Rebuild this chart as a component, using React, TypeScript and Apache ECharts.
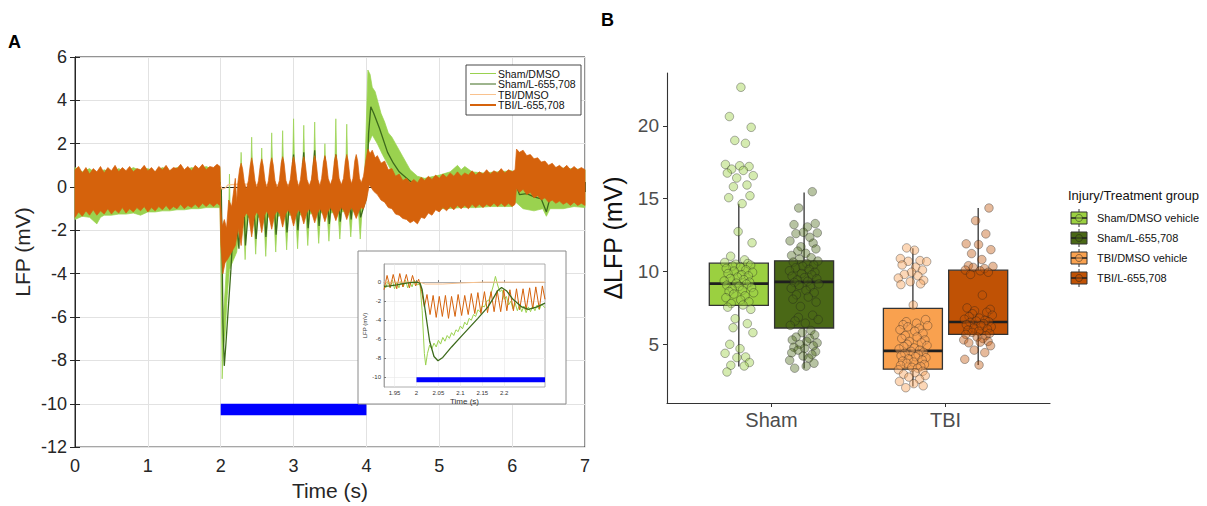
import React, { useEffect, useRef } from "react";
import * as echarts from "echarts";

const FONT = "'Liberation Sans', Arial, Helvetica, sans-serif";

// ---------- Panel A: main traces (time in s, LFP in mV) ----------
const tbiLUpper = [
  [0, 0.8], [0.05, 0.95], [0.1, 0.65], [0.15, 0.9], [0.2, 0.6], [0.25, 0.85], [0.3, 0.7], [0.35, 0.95], [0.4, 0.65], [0.45, 0.9],
  [0.5, 0.75], [0.55, 1.0], [0.6, 0.7], [0.65, 0.9], [0.7, 0.75], [0.75, 0.95], [0.8, 0.7], [0.85, 0.85], [0.9, 0.8], [0.95, 1.0],
  [1.0, 0.75], [1.05, 0.9], [1.1, 0.7], [1.15, 0.95], [1.2, 0.8], [1.25, 1.0], [1.3, 0.75], [1.35, 0.9], [1.4, 0.85], [1.45, 1.05],
  [1.5, 0.8], [1.55, 0.95], [1.6, 0.75], [1.65, 1.0], [1.7, 0.85], [1.75, 1.05], [1.8, 0.8], [1.85, 0.95], [1.9, 0.9], [1.95, 1.05], [1.99, 0.95],
  [2.0, -0.8], [2.02, -1.8], [2.05, -1.5], [2.08, -1.9], [2.11, -0.6], [2.15, -0.9], [2.2, 0.4], [2.22, -0.7],
  [2.235, 0.2], [2.26, 0.85], [2.28, 1.1], [2.3, 0.85], [2.325, 0.2], [2.352, -0.1],
  [2.38, 0.3], [2.405, 1.0], [2.425, 1.35], [2.445, 1.0], [2.47, 0.3], [2.494, -0.05],
  [2.518, 0.3], [2.543, 1.0], [2.563, 1.3], [2.583, 1.0], [2.608, 0.3], [2.632, -0.05],
  [2.655, 0.3], [2.68, 1.05], [2.7, 1.35], [2.72, 1.05], [2.745, 0.3], [2.775, -0.05],
  [2.805, 0.3], [2.83, 1.1], [2.85, 1.4], [2.87, 1.1], [2.895, 0.3], [2.925, 0.0],
  [2.955, 0.35], [2.98, 1.1], [3.0, 1.4], [3.02, 1.1], [3.045, 0.35], [3.07, 0.0],
  [3.095, 0.35], [3.12, 1.1], [3.14, 1.4], [3.16, 1.1], [3.185, 0.35], [3.215, 0.05],
  [3.245, 0.35], [3.27, 1.15], [3.29, 1.45], [3.31, 1.15], [3.335, 0.35], [3.36, 0.05],
  [3.385, 0.4], [3.41, 1.15], [3.43, 1.45], [3.45, 1.15], [3.475, 0.4], [3.505, 0.1],
  [3.535, 0.4], [3.56, 1.2], [3.58, 1.5], [3.6, 1.2], [3.625, 0.4], [3.655, 0.1],
  [3.685, 0.4], [3.71, 1.2], [3.73, 1.5], [3.75, 1.2], [3.775, 0.4], [3.795, 0.15],
  [3.815, 0.4], [3.84, 1.2], [3.86, 1.5], [3.88, 1.2], [3.905, 0.4], [3.93, 0.2],
  [3.96, 0.5], [3.99, 1.2], [4.02, 1.75], [4.05, 1.55], [4.08, 1.7], [4.12, 1.35], [4.15, 1.45], [4.2, 1.1], [4.25, 1.2], [4.3, 0.8],
  [4.35, 0.85], [4.4, 0.5], [4.45, 0.6], [4.5, 0.3], [4.55, 0.4], [4.6, 0.2], [4.65, 0.35], [4.7, 0.2], [4.75, 0.45], [4.8, 0.3],
  [4.85, 0.5], [4.9, 0.35], [4.95, 0.55], [5.0, 0.4], [5.05, 0.6], [5.1, 0.45], [5.15, 0.65], [5.2, 0.5], [5.25, 0.7], [5.3, 0.5],
  [5.35, 0.65], [5.4, 0.55], [5.45, 0.75], [5.5, 0.55], [5.55, 0.7], [5.6, 0.6], [5.65, 0.8], [5.7, 0.6], [5.75, 0.75], [5.8, 0.65],
  [5.85, 0.85], [5.9, 0.65], [5.95, 0.8], [6.0, 0.7], [6.04, 0.8], [6.06, 1.75], [6.1, 1.6], [6.15, 1.7], [6.2, 1.45], [6.25, 1.5],
  [6.3, 1.3], [6.35, 1.35], [6.4, 1.15], [6.45, 1.2], [6.5, 1.0], [6.55, 1.1], [6.6, 0.9], [6.65, 1.0], [6.7, 0.85], [6.75, 1.0],
  [6.8, 0.8], [6.85, 0.95], [6.9, 0.8], [6.95, 0.9], [7.0, 0.8],
];
const tbiLLower = [
  [0, -1.4], [0.05, -1.15], [0.1, -1.35], [0.15, -1.1], [0.2, -1.3], [0.25, -1.05], [0.3, -1.3], [0.35, -1.1], [0.4, -1.25], [0.45, -1.0],
  [0.5, -1.25], [0.55, -1.05], [0.6, -1.2], [0.65, -0.95], [0.7, -1.2], [0.75, -1.0], [0.8, -1.15], [0.85, -0.95], [0.9, -1.1], [0.95, -0.9],
  [1.0, -1.15], [1.05, -0.95], [1.1, -1.1], [1.15, -0.9], [1.2, -1.05], [1.25, -0.85], [1.3, -1.05], [1.35, -0.9], [1.4, -1.0], [1.45, -0.8],
  [1.5, -1.0], [1.55, -0.85], [1.6, -0.95], [1.65, -0.8], [1.7, -0.95], [1.75, -0.75], [1.8, -0.9], [1.85, -0.75], [1.9, -0.9], [1.95, -0.75], [1.99, -0.85],
  [2.0, -2.6], [2.03, -4.0], [2.06, -3.5], [2.1, -3.3], [2.15, -3.0], [2.2, -2.7], [2.24, -1.9],
  [2.28, -2.7], [2.32, -1.4], [2.352, -1.2],
  [2.385, -1.35], [2.425, -2.3], [2.465, -1.35], [2.494, -1.15],
  [2.523, -1.3], [2.563, -2.1], [2.603, -1.3], [2.632, -1.1],
  [2.66, -1.3], [2.7, -1.95], [2.74, -1.3], [2.775, -1.1],
  [2.81, -1.25], [2.85, -1.85], [2.89, -1.25], [2.925, -1.05],
  [2.96, -1.25], [3.0, -1.8], [3.04, -1.25], [3.07, -1.05],
  [3.1, -1.2], [3.14, -1.7], [3.18, -1.2], [3.215, -1.0],
  [3.25, -1.2], [3.29, -1.65], [3.33, -1.2], [3.36, -1.0],
  [3.39, -1.15], [3.43, -1.6], [3.47, -1.15], [3.505, -0.95],
  [3.54, -1.15], [3.58, -1.55], [3.62, -1.15], [3.655, -0.95],
  [3.69, -1.1], [3.73, -1.5], [3.77, -1.1], [3.795, -0.95],
  [3.82, -1.1], [3.86, -1.45], [3.9, -1.1], [3.93, -0.95],
  [3.96, -1.0], [4.0, -0.6], [4.04, 0.1], [4.1, -0.2], [4.15, -0.35], [4.2, -0.6], [4.25, -0.7], [4.3, -0.95], [4.35, -1.0], [4.4, -1.25],
  [4.45, -1.3], [4.5, -1.45], [4.55, -1.5], [4.6, -1.65], [4.65, -1.55], [4.7, -1.7], [4.75, -1.4], [4.8, -1.45], [4.85, -1.2], [4.9, -1.3],
  [4.95, -1.05], [5.0, -1.15], [5.05, -0.95], [5.1, -1.1], [5.15, -0.9], [5.2, -1.05], [5.25, -0.85], [5.3, -1.0], [5.35, -0.85], [5.4, -1.0],
  [5.45, -0.8], [5.5, -0.95], [5.55, -0.8], [5.6, -0.95], [5.65, -0.8], [5.7, -0.9], [5.75, -0.75], [5.8, -0.9], [5.85, -0.75], [5.9, -0.9],
  [5.95, -0.75], [6.0, -0.9], [6.04, -0.8], [6.06, -0.05], [6.1, -0.25], [6.15, -0.1], [6.2, -0.35], [6.25, -0.25], [6.3, -0.5], [6.35, -0.4],
  [6.4, -0.6], [6.45, -0.5], [6.5, -0.7], [6.55, -0.6], [6.6, -0.75], [6.65, -0.65], [6.7, -0.8], [6.75, -0.7], [6.8, -0.85], [6.85, -0.7],
  [6.9, -0.85], [6.95, -0.75], [7.0, -0.85],
];
const shamDmsoUpper = [
  [0, 0.9], [0.1, 0.7], [0.2, 0.85], [0.3, 0.6], [0.4, 0.8], [0.5, 0.65], [0.6, 0.85], [0.7, 0.7], [0.8, 0.9], [0.9, 0.75],
  [1.0, 0.85], [1.1, 0.7], [1.2, 0.9], [1.3, 0.75], [1.4, 0.9], [1.5, 0.75], [1.6, 0.9], [1.7, 0.8], [1.8, 0.95], [1.9, 0.8], [1.99, 0.9],
  [2.0, -0.5], [2.015, -6.0], [2.03, -6.2], [2.06, -4.8], [2.09, -3.0], [2.11, -1.0], [2.12, 0.6], [2.13, -1.0], [2.16, -1.2], [2.22, -0.8],
  [2.26, -0.3], [2.28, 1.6], [2.3, -0.3],
  [2.405, -0.3], [2.425, 2.3], [2.445, -0.3],
  [2.543, -0.3], [2.563, 1.8], [2.583, -0.3],
  [2.68, -0.3], [2.7, 2.5], [2.72, -0.3],
  [2.83, -0.3], [2.85, 2.6], [2.87, -0.3],
  [2.98, -0.2], [3.0, 3.15], [3.02, -0.2],
  [3.12, -0.2], [3.14, 2.85], [3.16, -0.2],
  [3.27, -0.2], [3.29, 3.0], [3.31, -0.2],
  [3.41, -0.1], [3.43, 2.0], [3.45, -0.1],
  [3.56, -0.1], [3.58, 3.15], [3.6, -0.1],
  [3.71, -0.1], [3.73, 2.9], [3.75, -0.1],
  [3.84, 0.0], [3.86, 1.4], [3.88, 0.0],
  [3.97, 0.0], [3.99, 2.0], [4.02, 5.4], [4.05, 5.2], [4.08, 4.6], [4.12, 4.4], [4.16, 3.9], [4.2, 3.4],
  [4.25, 3.0], [4.3, 2.5], [4.35, 2.3], [4.4, 2.0], [4.45, 1.7], [4.5, 1.4], [4.55, 1.1], [4.6, 0.8], [4.7, 0.5], [4.8, 0.4],
  [5.0, 0.55], [5.15, 0.7], [5.25, 1.0], [5.3, 0.8], [5.35, 0.95], [5.45, 0.7], [5.6, 0.65], [5.8, 0.7], [6.0, 0.75], [6.05, 0.5],
  [6.2, 0.7], [6.4, 0.8], [6.6, 0.9], [6.8, 0.85], [7.0, 0.8],
];
const shamDmsoLower = [
  [0, -1.5], [0.1, -1.35], [0.2, -1.4], [0.3, -1.7], [0.35, -1.4], [0.4, -1.3], [0.5, -1.3], [0.6, -1.25], [0.7, -1.25], [0.8, -1.2],
  [0.9, -1.3], [1.0, -1.15], [1.1, -1.15], [1.2, -1.1], [1.3, -1.1], [1.4, -1.05], [1.5, -1.05], [1.6, -1.0], [1.7, -1.0], [1.8, -0.95],
  [1.9, -0.95], [1.99, -0.95],
  [2.0, -2.5], [2.02, -8.85], [2.035, -7.5], [2.06, -6.8], [2.09, -5.0], [2.12, -3.8], [2.17, -3.4], [2.22, -3.0], [2.26, -1.6],
  [2.31, -1.4], [2.335, -3.35], [2.36, -1.4],
  [2.455, -1.4], [2.48, -3.1], [2.505, -1.4],
  [2.593, -1.4], [2.618, -3.2], [2.643, -1.4],
  [2.73, -1.35], [2.755, -3.0], [2.78, -1.35],
  [2.88, -1.3], [2.905, -2.9], [2.93, -1.3],
  [3.03, -1.3], [3.055, -2.85], [3.08, -1.3],
  [3.17, -1.25], [3.195, -2.7], [3.22, -1.25],
  [3.32, -1.2], [3.345, -2.6], [3.37, -1.2],
  [3.46, -1.2], [3.485, -2.5], [3.51, -1.2],
  [3.61, -1.15], [3.635, -2.4], [3.66, -1.15],
  [3.76, -1.1], [3.785, -2.3], [3.81, -1.1],
  [3.89, -1.1], [3.915, -2.4], [3.94, -1.1],
  [4.0, -0.5], [4.03, 2.0], [4.08, 2.4], [4.15, 2.0], [4.22, 1.5], [4.3, 1.0], [4.4, 0.4],
  [4.5, 0.0], [4.6, -0.3], [4.7, -0.6], [4.8, -0.9], [4.9, -1.0], [5.1, -1.0], [5.3, -0.95], [5.5, -0.95], [5.7, -0.9], [5.9, -0.9],
  [6.0, -0.9], [6.05, -0.7], [6.15, -1.0], [6.3, -1.1], [6.42, -1.0], [6.47, -1.35], [6.52, -1.0], [6.7, -1.0], [6.85, -0.9], [7.0, -0.95],
];
const shamLTrace = [
  [0, -0.35], [0.5, -0.3], [1.0, -0.2], [1.5, -0.15], [1.95, -0.05], [2.0, 0], [2.008, -0.1], [2.02, -3.0], [2.03, -6.2], [2.049, -8.25],
  [2.07, -7.3], [2.1, -5.8], [2.14, -3.8], [2.16, -2.6], [2.19, -0.6], [2.22, -1.8], [2.25, -2.85], [2.28, 0.2], [2.32, -1.0], [2.34, -2.7],
  [2.425, 0.6], [2.45, -0.8], [2.485, -2.4], [2.563, 0.7], [2.59, -0.6], [2.62, -2.3], [2.7, 0.9], [2.73, -0.6], [2.76, -2.2], [2.85, 1.3],
  [2.88, -0.5], [2.91, -2.1], [3.0, 1.5], [3.03, -0.5], [3.06, -2.0], [3.14, 1.6], [3.17, -0.4], [3.2, -1.9], [3.29, 1.7], [3.32, -0.4],
  [3.35, -1.8], [3.43, 1.4], [3.46, -0.4], [3.49, -1.7], [3.58, 1.5], [3.61, -0.3], [3.64, -1.6], [3.73, 1.3], [3.76, -0.3], [3.79, -1.5],
  [3.86, 1.0], [3.89, -0.3], [3.92, -1.4], [4.0, -0.5], [4.03, 2.5], [4.06, 3.7], [4.1, 3.4], [4.18, 2.7], [4.29, 1.6], [4.37, 1.1],
  [4.45, 0.7], [4.6, 0.27], [4.76, 0.0], [5.0, -0.1], [5.5, -0.1], [6.0, -0.1], [6.04, -0.1], [6.06, 0.05], [6.1, -0.35], [6.2, -0.3],
  [6.3, -0.45], [6.4, -0.55], [6.47, -1.15], [6.52, -0.5], [6.7, -0.35], [7.0, -0.25],
];
const tbiDmsoTrace = [
  [0, 0.05], [1.0, 0.05], [2.0, 0.05], [2.02, -0.1], [2.06, -0.05], [2.1, 0.1], [2.3, 0.15], [2.5, 0.1], [3.0, 0.1], [4.0, 0.1],
  [4.05, 0.3], [4.5, 0.0], [5.0, 0.0], [6.0, 0.0], [7.0, 0.0],
];
const stimBar = [[2, -10.26], [4, -10.26]];

// ---------- Panel A inset ----------
const insetShamDmso = [
  [1.926, -0.3], [1.93, -0.6], [1.935, 0.1], [1.94, -0.5], [1.945, 0.2], [1.95, -0.7], [1.955, 0.0], [1.96, -0.6], [1.965, 0.1], [1.97, -0.5],
  [1.975, 0.2], [1.98, -0.6], [1.985, 0.0], [1.99, -0.5], [1.995, 0.2], [2.0, -0.3], [2.008, -0.2], [2.013, -3.0], [2.018, -7.5], [2.021, -8.7],
  [2.025, -7.5], [2.03, -6.6], [2.035, -7.0], [2.04, -6.4], [2.045, -6.8], [2.05, -6.1], [2.055, -6.5], [2.06, -5.8], [2.065, -6.2], [2.07, -5.6],
  [2.075, -5.9], [2.08, -5.3], [2.085, -5.6], [2.09, -5.0], [2.095, -5.2], [2.1, -4.6], [2.105, -4.9], [2.11, -4.2], [2.115, -4.5], [2.12, -3.8],
  [2.125, -4.0], [2.13, -3.4], [2.135, -3.6], [2.14, -2.9], [2.145, -3.1], [2.15, -2.5], [2.155, -2.6], [2.16, -2.0], [2.165, -1.9], [2.17, -1.2],
  [2.175, -0.4], [2.18, 0.6], [2.185, -0.3], [2.19, -1.0], [2.195, -0.8], [2.2, -1.8], [2.205, -1.5], [2.21, -2.4], [2.215, -2.0], [2.22, -2.8],
  [2.225, -2.2], [2.23, -3.0], [2.235, -2.4], [2.24, -3.1], [2.245, -2.5], [2.25, -3.2], [2.255, -2.6], [2.26, -3.1], [2.265, -2.5], [2.27, -3.0],
  [2.275, -2.4], [2.28, -2.9], [2.285, -2.3], [2.293, -2.7],
];
const insetShamL = [
  [1.926, -0.45], [1.94, -0.4], [1.955, -0.3], [1.97, -0.15], [1.985, -0.05], [2.0, 0], [2.008, -0.1], [2.013, -0.8], [2.02, -3.0], [2.03, -6.2],
  [2.04, -7.8], [2.049, -8.25], [2.06, -7.9], [2.08, -6.8], [2.1, -5.8], [2.12, -4.8], [2.14, -3.8], [2.163, -2.6], [2.175, -1.7], [2.185, -0.9],
  [2.194, -0.56], [2.205, -0.9], [2.22, -1.8], [2.24, -2.6], [2.255, -2.85], [2.275, -2.6], [2.293, -2.2],
];
const insetTbiDmso = [
  [1.926, 0.0], [2.0, 0.0], [2.01, -0.05], [2.02, -0.2], [2.06, -0.2], [2.1, -0.1], [2.15, 0.0], [2.2, 0.0], [2.293, 0.0],
];
const insetTbiL = [
  [1.926, -0.8], [1.933, 0.7], [1.94, -0.6], [1.947, 0.8], [1.955, -0.7], [1.962, 0.9], [1.969, -0.5], [1.977, 0.8], [1.984, -0.6], [1.991, 0.7],
  [1.998, -0.4], [2.005, 0.3], [2.012, -1.0], [2.018, -2.6], [2.024, -1.3], [2.031, -3.4], [2.038, -1.4], [2.045, -3.7], [2.052, -1.5], [2.059, -3.6],
  [2.066, -1.4], [2.073, -3.8], [2.08, -1.5], [2.088, -3.6], [2.095, -1.3], [2.103, -3.5], [2.11, -1.4], [2.118, -3.4], [2.125, -1.2], [2.133, -3.3],
  [2.14, -1.1], [2.147, -3.3], [2.155, -1.0], [2.162, -3.2], [2.17, -1.0], [2.177, -3.1], [2.184, -0.9], [2.192, -3.1], [2.199, -0.8], [2.206, -3.0],
  [2.213, -0.8], [2.221, -3.0], [2.228, -0.7], [2.235, -2.9], [2.243, -0.7], [2.25, -2.9], [2.258, -0.6], [2.265, -2.8], [2.272, -0.5], [2.28, -2.8],
  [2.287, -0.4], [2.293, -1.8],
];
const insetStim = [[2.0, -10.23], [2.293, -10.23]];
const insetXTicks = [1.95, 2, 2.05, 2.1, 2.15, 2.2];
const insetYTicks = [-10, -8, -6, -4, -2, 0];

const traceNames = ["Sham/DMSO", "Sham/L-655,708", "TBI/DMSO", "TBI/L-655,708"];

// ---------- Panel B ----------
const injuryCats = ["Sham", "TBI"];
const groupNames = ["Sham/DMSO vehicle", "Sham/L-655,708", "TBI/DMSO vehicle", "TBI/L-655,708"];
const groupCat = [0, 0, 1, 1];
const groupSide = [-1, 1, -1, 1];
const whiskerLow = [3.47, 3.34, 2.1, 3.58];
const q1 = [7.68, 6.12, 3.29, 5.68];
const median = [9.17, 9.29, 4.55, 6.53];
const q3 = [10.57, 10.73, 7.47, 10.09];
const whiskerHigh = [14.66, 15.43, 11.6, 14.36];

const shamDmsoPts = [22.65, 20.64, 19.9, 19.0, 18.8, 17.35, 17.26, 17.21, 17.03, 16.94, 16.76, 16.58, 16.42, 15.94, 15.82, 15.2, 15.07, 14.66,
  12.74, 11.97, 11.05, 10.8, 10.62, 10.55, 10.5, 10.44, 10.38, 10.3, 10.21, 10.12, 10.03, 9.95, 9.86, 9.78, 9.7, 9.61, 9.52, 9.44, 9.35,
  9.27, 9.2, 9.14, 9.06, 8.98, 8.9, 8.81, 8.72, 8.63, 8.54, 8.45, 8.33, 8.2, 8.05, 7.92, 7.8, 7.7, 7.55, 7.4, 6.76, 6.42, 6.14, 5.8, 5.0,
  4.7, 4.38, 4.13, 4.09, 3.75, 3.56, 3.51, 3.1];
const shamLPts = [15.48, 14.36, 13.29, 13.22, 13.06, 12.69, 12.65, 12.6, 12.35, 12.1, 11.95, 11.7, 11.55, 11.4, 11.25, 11.1, 10.95, 10.85,
  10.72, 10.65, 10.55, 10.45, 10.36, 10.25, 10.15, 10.05, 9.95, 9.86, 9.77, 9.68, 9.58, 9.5, 9.42, 9.33, 9.25, 9.15, 9.05, 8.95, 8.85, 8.7,
  8.55, 8.4, 8.25, 8.1, 7.9, 7.6, 7.0, 6.85, 6.7, 6.6, 6.45, 6.3, 5.95, 5.8, 5.65, 5.5, 5.4, 5.3, 5.2, 5.1, 5.0, 4.9, 4.8, 4.72, 4.6, 4.5,
  4.42, 4.3, 4.2, 4.05, 3.9, 3.7, 3.5, 3.36];
const tbiDmsoPts = [11.62, 11.46, 10.89, 10.75, 10.7, 10.68, 10.45, 10.3, 10.1, 9.95, 9.8, 9.7, 9.55, 9.4, 9.3, 9.15, 9.1, 7.7, 6.7, 6.55,
  6.45, 6.35, 6.28, 6.2, 6.1, 6.0, 5.9, 5.75, 5.6, 5.5, 5.4, 5.3, 5.2, 5.1, 5.0, 4.92, 4.85, 4.75, 4.68, 4.6, 4.52, 4.45, 4.38, 4.3, 4.22,
  4.15, 4.08, 4.0, 3.93, 3.85, 3.78, 3.7, 3.62, 3.55, 3.48, 3.42, 3.36, 3.25, 3.15, 3.05, 2.95, 2.85, 2.75, 2.6, 2.45, 2.3, 2.15, 2.02];
const tbiLPts = [14.36, 13.49, 12.58, 11.9, 11.85, 11.5, 11.23, 10.82, 10.4, 10.35, 10.28, 10.2, 10.1, 10.05, 9.95, 9.8, 8.38, 7.5, 7.4,
  7.3, 7.2, 7.1, 7.0, 6.9, 6.8, 6.72, 6.65, 6.6, 6.55, 6.5, 6.42, 6.35, 6.28, 6.2, 6.12, 6.05, 5.98, 5.9, 5.82, 5.75, 5.68, 5.6, 5.5, 5.4,
  5.3, 5.2, 5.15, 5.1, 4.9, 4.6, 4.43, 3.97, 3.58];
const groupPts = [shamDmsoPts, shamLPts, tbiDmsoPts, tbiLPts];
const jitterOffsets = [0.012, -0.054, 0.071, -0.023, 0.038, -0.077, 0.005, 0.059, -0.041, 0.026, -0.066, 0.083, -0.012, 0.047, -0.031,
  0.064, -0.058, 0.019, -0.004, 0.076, -0.047, 0.033, -0.081, 0.052, -0.018, 0.068, -0.036, 0.009, -0.072, 0.041, -0.027, 0.079, -0.062,
  0.016, 0.055, -0.008, -0.049, 0.029, -0.084, 0.062, -0.015, 0.044, -0.069, 0.002, 0.073, -0.038, 0.021, -0.056, 0.085, -0.029, 0.036,
  -0.074, 0.011, 0.058, -0.044, 0.024, -0.064, 0.069, -0.021, 0.049, -0.033, 0.081, -0.052, 0.007, -0.079, 0.039, -0.011, 0.061, -0.046,
  0.031, -0.068, 0.015, 0.075, -0.025, 0.053, -0.059, 0.003, -0.035, 0.066, -0.071, 0.045, -0.006, 0.027, -0.083, 0.057];
const bYTicks = [5, 10, 15, 20];

// ---------- styles ----------
const C_LG = "#9ad24f";
const C_DG = "#3d6b1c";
const C_LO = "#f9c28e";
const C_OR = "#d5620c";
const traceColors = [C_LG, C_DG, C_LO, C_OR];
const boxFill = ["#9bd040", "#4a6816", "#f9a14f", "#c05205"];
const ptFill = ["rgba(160,210,75,0.55)", "rgba(74,104,22,0.5)", "rgba(249,165,90,0.55)", "rgba(192,82,5,0.5)"];
const DODGE = 0.1875;
const BOX_W = 0.339;

function bandSeries(name: string, upper: number[][], lower: number[][], color: string, z: number) {
  return {
    type: "custom",
    name,
    xAxisIndex: 0,
    yAxisIndex: 0,
    z,
    silent: true,
    data: [[upper[0][0], upper[0][1]]],
    renderItem: (_p: any, api: any) => {
      const pts = upper.map((p) => api.coord(p)).concat(lower.slice().reverse().map((p) => api.coord(p)));
      return { type: "polygon", shape: { points: pts }, style: { fill: color, stroke: color, lineWidth: 0.7 } };
    },
  };
}

function lineSeries(name: string, data: number[][], color: string, width: number, xi: number, yi: number, z: number) {
  return {
    type: "line",
    name,
    xAxisIndex: xi,
    yAxisIndex: yi,
    z,
    data,
    showSymbol: false,
    symbol: "none",
    silent: true,
    lineStyle: { color, width, cap: "butt" },
  };
}

export default function App() {
  const ref = useRef<HTMLDivElement>(null);
  useEffect(() => {
    if (!ref.current) return;
    const chart = echarts.init(ref.current, undefined, { renderer: "svg" });

    const mainAxisCommon = {
      axisLine: { show: true, lineStyle: { color: "#262626", width: 1 } },
      axisTick: { show: true, inside: true, length: 5, lineStyle: { color: "#262626" } },
    };

    const boxSeries = {
      type: "custom",
      xAxisIndex: 3,
      yAxisIndex: 3,
      z: 3,
      silent: true,
      data: groupNames.map((_, i) => [groupCat[i] + 1 + groupSide[i] * DODGE, whiskerLow[i], q1[i], median[i], q3[i], whiskerHigh[i]]),
      encode: { x: 0, y: [1, 2, 3, 4, 5] },
      renderItem: (params: any, api: any) => {
        const i = params.dataIndex;
        const c = api.value(0);
        const lo = api.coord([c, api.value(1)]);
        const b1 = api.coord([c, api.value(2)]);
        const md = api.coord([c, api.value(3)]);
        const b3 = api.coord([c, api.value(4)]);
        const hi = api.coord([c, api.value(5)]);
        const half = api.size([BOX_W, 0])[0] / 2;
        return {
          type: "group",
          children: [
            { type: "line", shape: { x1: lo[0], y1: lo[1], x2: b1[0], y2: b1[1] }, style: { stroke: "#333", lineWidth: 1.3 } },
            { type: "line", shape: { x1: b3[0], y1: b3[1], x2: hi[0], y2: hi[1] }, style: { stroke: "#333", lineWidth: 1.3 } },
            { type: "rect", shape: { x: b1[0] - half, y: b3[1], width: half * 2, height: b1[1] - b3[1] }, style: { fill: boxFill[i], stroke: "#333", lineWidth: 1.3 } },
            { type: "line", shape: { x1: md[0] - half, y1: md[1], x2: md[0] + half, y2: md[1] }, style: { stroke: "#1f1f1f", lineWidth: 2.6 } },
          ],
        };
      },
    };

    const pointSeries = groupPts.map((vals, g) => ({
      type: "scatter",
      name: groupNames[g],
      xAxisIndex: 3,
      yAxisIndex: 3,
      z: 4,
      silent: true,
      symbolSize: 8.5,
      itemStyle: { color: ptFill[g], borderColor: "rgba(30,30,30,0.5)", borderWidth: 0.9 },
      data: vals.map((v, k) => [groupCat[g] + 1 + groupSide[g] * DODGE + jitterOffsets[(k + g * 13) % jitterOffsets.length], v]),
    }));

    const legendARows = traceNames.map((n, i) => [
      { type: "line", z: 21, shape: { x1: 470, y1: 73.5 + i * 10.5, x2: 496, y2: 73.5 + i * 10.5 }, style: { stroke: traceColors[i], lineWidth: i === 3 ? 2 : 1 } },
      { type: "text", z: 21, x: 498, y: 73.5 + i * 10.5, style: { text: n, fill: "#111", font: `10.5px ${FONT}`, verticalAlign: "middle" } },
    ]).flat();

    const legendBRows = groupNames.map((n, i) => {
      const cy = 218 + i * 20;
      const cx = 1079;
      return [
        { type: "line", z: 21, shape: { x1: cx, y1: cy - 9, x2: cx, y2: cy + 9 }, style: { stroke: "#333", lineWidth: 1 } },
        { type: "rect", z: 21, shape: { x: cx - 8, y: cy - 6, width: 16, height: 12 }, style: { fill: boxFill[i], stroke: "#333", lineWidth: 1 } },
        { type: "line", z: 22, shape: { x1: cx - 8, y1: cy, x2: cx + 8, y2: cy }, style: { stroke: "#1f1f1f", lineWidth: 1.5 } },
        { type: "circle", z: 23, shape: { cx, cy, r: 3.5 }, style: { fill: ptFill[i], stroke: "rgba(30,30,30,0.6)", lineWidth: 0.8 } },
        { type: "text", z: 21, x: 1097, y: cy, style: { text: n, fill: "#111", font: `11px ${FONT}`, verticalAlign: "middle" } },
      ];
    }).flat();

    const option: any = {
      animation: false,
      backgroundColor: "#ffffff",
      textStyle: { fontFamily: FONT },
      grid: [
        { left: 75, top: 57, width: 510, height: 396, show: true, borderColor: "#262626", borderWidth: 1, backgroundColor: "rgba(0,0,0,0)" },
        { left: 384, top: 264, width: 161, height: 123, show: true, borderColor: "#9a9a9a", borderWidth: 0.8, backgroundColor: "rgba(0,0,0,0)", z: 12 },
        { left: 667, top: 73, width: 383, height: 330 },
      ],
      xAxis: [
        {
          type: "value", gridIndex: 0, min: 0, max: 7, interval: 1, ...mainAxisCommon,
          splitLine: { show: true, lineStyle: { color: "#e2e2e2", width: 1 } },
          axisLabel: { fontSize: 18, color: "#262626", margin: 10, fontFamily: FONT },
          name: "Time (s)", nameLocation: "middle", nameGap: 32,
          nameTextStyle: { fontSize: 21, color: "#262626", fontFamily: FONT },
        },
        {
          type: "value", gridIndex: 0, position: "top", min: 0, max: 7, interval: 1, ...mainAxisCommon,
          axisLabel: { show: false }, splitLine: { show: false },
        },
        {
          type: "value", gridIndex: 1, min: 1.926, max: 2.293, z: 12, splitNumber: 7,
          axisLine: { show: true, lineStyle: { color: "#9a9a9a", width: 0.8 } },
          axisTick: { show: true, inside: true, length: 2, customValues: insetXTicks, lineStyle: { color: "#777" } },
          splitLine: { show: true, lineStyle: { color: "#e8e8e8", width: 0.6 } },
          axisLabel: { customValues: insetXTicks, fontSize: 6, color: "#333", margin: 3, fontFamily: FONT, formatter: (v: number) => String(v) },
          name: "Time (s)", nameLocation: "middle", nameGap: 10,
          nameTextStyle: { fontSize: 8, color: "#333", fontFamily: FONT },
        },
        {
          type: "value", gridIndex: 2, min: 0.4, max: 2.6,
          axisLine: { show: true, lineStyle: { color: "#333", width: 1.1 } },
          axisTick: { show: true, length: 4, customValues: [1, 2], lineStyle: { color: "#333" } },
          splitLine: { show: false },
          axisLabel: {
            customValues: [1, 2], fontSize: 20, color: "#4d4d4d", margin: 7, fontFamily: FONT,
            formatter: (v: number) => (Math.abs(v - 1) < 1e-6 ? injuryCats[0] : Math.abs(v - 2) < 1e-6 ? injuryCats[1] : ""),
          },
        },
      ],
      yAxis: [
        {
          type: "value", gridIndex: 0, min: -12, max: 6, interval: 2, ...mainAxisCommon,
          splitLine: { show: true, lineStyle: { color: "#e2e2e2", width: 1 } },
          axisLabel: { fontSize: 18, color: "#262626", margin: 8, fontFamily: FONT },
          name: "LFP (mV)", nameLocation: "middle", nameGap: 42,
          nameTextStyle: { fontSize: 21, color: "#262626", fontFamily: FONT },
        },
        {
          type: "value", gridIndex: 0, position: "right", min: -12, max: 6, interval: 2, ...mainAxisCommon,
          axisLabel: { show: false }, splitLine: { show: false },
        },
        {
          type: "value", gridIndex: 1, min: -11, max: 1.9, z: 12, splitNumber: 6,
          axisLine: { show: true, lineStyle: { color: "#9a9a9a", width: 0.8 } },
          axisTick: { show: true, inside: true, length: 2, customValues: insetYTicks, lineStyle: { color: "#777" } },
          splitLine: { show: true, lineStyle: { color: "#e8e8e8", width: 0.6 } },
          axisLabel: { customValues: insetYTicks, fontSize: 6, color: "#333", margin: 3, fontFamily: FONT },
          name: "LFP (mV)", nameLocation: "middle", nameGap: 12,
          nameTextStyle: { fontSize: 6, color: "#333", fontFamily: FONT },
        },
        {
          type: "value", gridIndex: 2, min: 0.97, max: 23.63,
          axisLine: { show: true, lineStyle: { color: "#333", width: 1.1 } },
          axisTick: { show: true, length: 4, customValues: bYTicks, lineStyle: { color: "#333" } },
          splitLine: { show: false },
          axisLabel: { customValues: bYTicks, fontSize: 19, color: "#4d4d4d", margin: 8, fontFamily: FONT },
          name: "ΔLFP (mV)", nameLocation: "middle", nameGap: 42,
          nameTextStyle: { fontSize: 25, color: "#111", fontFamily: FONT },
        },
      ],
      graphic: [
        { type: "text", z: 30, x: 8, y: 33, style: { text: "A", fill: "#000", font: `bold 18px ${FONT}` } },
        { type: "text", z: 30, x: 601, y: 11, style: { text: "B", fill: "#000", font: `bold 18px ${FONT}` } },
        { type: "rect", z: 20, shape: { x: 466, y: 65, width: 115, height: 50 }, style: { fill: "#fff", stroke: "#333", lineWidth: 0.9 } },
        ...legendARows,
        { type: "rect", z: 10, shape: { x: 358, y: 251, width: 208, height: 153 }, style: { fill: "#fff", stroke: "#8a8a8a", lineWidth: 1 } },
        { type: "text", z: 21, x: 1068, y: 195, style: { text: "Injury/Treatment group", fill: "#111", font: `13px ${FONT}`, verticalAlign: "middle" } },
        ...legendBRows,
      ],
      series: [
        bandSeries(traceNames[0], shamDmsoUpper, shamDmsoLower, C_LG, 2),
        lineSeries(traceNames[1], shamLTrace, C_DG, 1.3, 0, 0, 3),
        lineSeries(traceNames[2], tbiDmsoTrace, C_LO, 1.2, 0, 0, 3),
        bandSeries(traceNames[3], tbiLUpper, tbiLLower, C_OR, 4),
        lineSeries("Stimulus", stimBar, "#0000ff", 11.5, 0, 0, 5),
        lineSeries(traceNames[0] + " (inset)", insetShamDmso, C_LG, 1, 2, 2, 13),
        lineSeries(traceNames[3] + " (inset)", insetTbiL, C_OR, 1, 2, 2, 13),
        lineSeries(traceNames[2] + " (inset)", insetTbiDmso, C_LO, 1, 2, 2, 13),
        lineSeries(traceNames[1] + " (inset)", insetShamL, C_DG, 1.3, 2, 2, 14),
        lineSeries("Stimulus (inset)", insetStim, "#0000ff", 5, 2, 2, 14),
        boxSeries,
        ...pointSeries,
      ],
    };
    chart.setOption(option);
    return () => chart.dispose();
  }, []);
  return <div ref={ref} style={{ position: "fixed", left: 0, top: 0, width: 1207, height: 506, background: "#fff" }} />;
}
